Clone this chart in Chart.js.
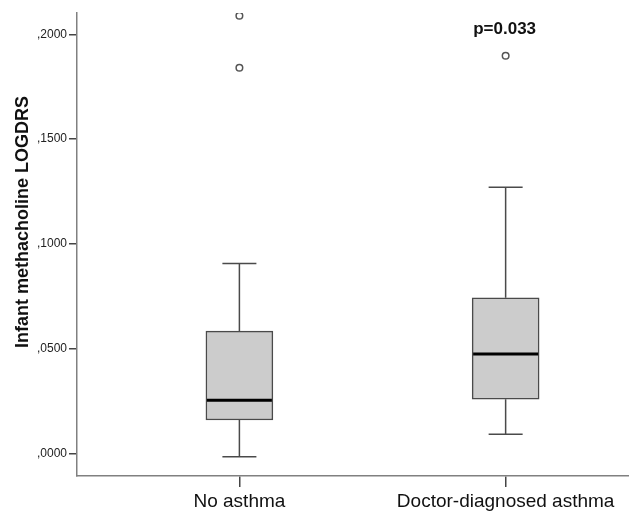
<!DOCTYPE html>
<html>
<head>
<meta charset="utf-8">
<script src="https://cdn.jsdelivr.net/npm/chart.js@4.4.1/dist/chart.umd.min.js"></script>
<style>
  html, body { margin: 0; padding: 0; background: #fff; overflow: hidden; }
  #wrap { width: 629px; height: 512px; overflow: hidden; }
</style>
</head>
<body>
<div id="wrap"><canvas id="box-chart" width="634" height="512"></canvas></div>
<script>
// groups and their box statistics
var categories = ['No asthma', 'Doctor-diagnosed asthma'];
var whiskerLow  = [-0.0015, 0.0092];
var q1          = [0.0160, 0.0259];
var median      = [0.0254, 0.0475];
var q3          = [0.0584, 0.0743];
var whiskerHigh = [0.0907, 0.1270];
// outliers: group index (1-based) and value
var outlierGroup = [1, 1, 2];
var outlierValue = [0.2089, 0.1841, 0.1898];

var yTicks = [0, 0.05, 0.10, 0.15, 0.20];
var yTitle = 'Infant methacholine LOGDRS';
var pText = 'p=0.033';

var BOX_W = 67;
var CAP_W = 34;

var boxData = categories.map(function (c, i) {
  return { x: i + 1, y: [q1[i], q3[i]] };
});
var outlierData = outlierValue.map(function (v, i) {
  return { x: outlierGroup[i], y: v };
});

var boxPlugin = {
  id: 'boxParts',
  beforeDatasetsDraw: function (chart) {
    var ctx = chart.ctx, xs = chart.scales.x, ys = chart.scales.y;
    ctx.save();
    ctx.strokeStyle = '#4a4a4a';
    ctx.lineWidth = 1.5;
    for (var i = 0; i < categories.length; i++) {
      var cx = xs.getPixelForValue(i + 1);
      var yl = ys.getPixelForValue(whiskerLow[i]);
      var yh = ys.getPixelForValue(whiskerHigh[i]);
      var ya = ys.getPixelForValue(q1[i]);
      var yb = ys.getPixelForValue(q3[i]);
      ctx.beginPath();
      ctx.moveTo(cx, ya); ctx.lineTo(cx, yl);
      ctx.moveTo(cx, yb); ctx.lineTo(cx, yh);
      ctx.moveTo(cx - CAP_W / 2, yl); ctx.lineTo(cx + CAP_W / 2, yl);
      ctx.moveTo(cx - CAP_W / 2, yh); ctx.lineTo(cx + CAP_W / 2, yh);
      ctx.stroke();
    }
    ctx.restore();
  },
  afterDatasetsDraw: function (chart) {
    var ctx = chart.ctx, xs = chart.scales.x, ys = chart.scales.y;
    ctx.save();
    ctx.strokeStyle = '#000';
    ctx.lineWidth = 3;
    for (var i = 0; i < categories.length; i++) {
      var cx = xs.getPixelForValue(i + 1);
      var ym = ys.getPixelForValue(median[i]);
      ctx.beginPath();
      ctx.moveTo(cx - BOX_W / 2 + 1, ym);
      ctx.lineTo(cx + BOX_W / 2 - 1, ym);
      ctx.stroke();
    }
    // p value above the second group
    ctx.fillStyle = '#111';
    ctx.font = 'bold 17px "Liberation Sans", Arial, sans-serif';
    ctx.textAlign = 'center';
    ctx.textBaseline = 'middle';
    ctx.fillText(pText, xs.getPixelForValue(2) - 1, 29);
    // y axis title
    ctx.translate(23, 222);
    ctx.rotate(-Math.PI / 2);
    ctx.font = 'bold 18px "Liberation Sans", Arial, sans-serif';
    ctx.fillText(yTitle, 0, 0);
    ctx.restore();
  }
};

var ctx = document.getElementById('box-chart').getContext('2d');
var chart = new Chart(ctx, {
  type: 'bar',
  data: {
    datasets: [
      {
        type: 'bar',
        data: boxData,
        backgroundColor: '#cccccc',
        borderColor: '#4a4a4a',
        borderWidth: 1.5,
        borderSkipped: false,
        barThickness: BOX_W
      },
      {
        type: 'scatter',
        data: outlierData,
        pointRadius: 3.3,
        pointBackgroundColor: '#fff',
        pointBorderColor: '#555',
        pointBorderWidth: 1.5
      }
    ]
  },
  options: {
    responsive: false,
    animation: false,
    layout: { padding: { top: 13, right: 0, left: 0, bottom: 0 } },
    plugins: { legend: { display: false }, tooltip: { enabled: false } },
    scales: {
      x: {
        type: 'linear',
        offset: false,
        min: 0.39,
        max: 2.4615,
        afterBuildTicks: function (s) { s.ticks = categories.map(function (c, i) { return { value: i + 1 }; }); },
        afterFit: function (s) { s.height = 36; s.paddingRight = 0; },
        ticks: {
          callback: function (v) { return categories[v - 1]; },
          color: '#111',
          font: { family: '"Liberation Sans", Arial, sans-serif', size: 19 },
          padding: 3,
          maxRotation: 0,
          autoSkip: false
        },
        grid: { offset: false, drawOnChartArea: false, drawTicks: true, tickLength: 11, color: '#444', lineWidth: 1.5 },
        border: { color: '#808080', width: 1.5 }
      },
      y: {
        min: -0.01073,
        max: 0.2102,
        afterBuildTicks: function (s) { s.ticks = yTicks.map(function (v) { return { value: v }; }); },
        afterFit: function (s) { s.width = 77; },
        ticks: {
          callback: function (v) { return v.toFixed(4).replace('0.', ','); },
          color: '#222',
          font: { family: '"Liberation Sans", Arial, sans-serif', size: 12 },
          padding: 2
        },
        grid: { drawOnChartArea: false, drawTicks: true, tickLength: 8, color: '#444', lineWidth: 1.5 },
        border: { color: '#808080', width: 1.5 }
      }
    }
  },
  plugins: [boxPlugin]
});
</script>
</body>
</html>
